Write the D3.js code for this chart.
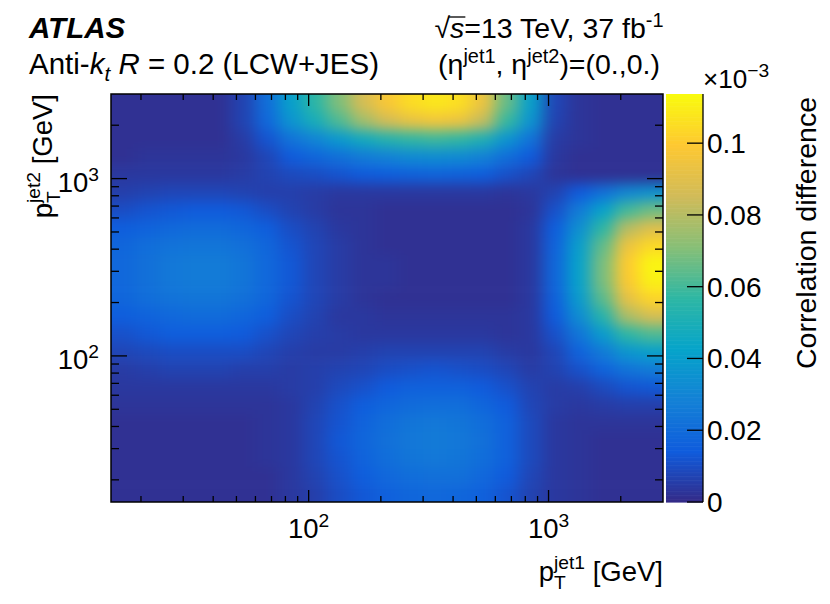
<!DOCTYPE html>
<html><head><meta charset="utf-8">
<script src="https://cdn.jsdelivr.net/npm/d3@7"></script>
<style>
body{margin:0;background:#fff}
text{font-family:"Liberation Sans",Arial,Helvetica,sans-serif;fill:#000;white-space:pre}
</style>
</head><body>
<svg id="c" width="830" height="604"></svg>
<script>
// ---------------- data ----------------
// bin edges of p_T^jet1 (x) and p_T^jet2 (y), GeV
const xEdges = [15, 18.9, 23.8, 29.9, 37.7, 47.4, 59.7, 75.2, 94.6, 119, 150, 189, 238, 299, 377, 474, 597, 752, 946, 1191, 1500, 1888, 2377, 3000];
const yEdges = [15, 18.9, 23.8, 29.9, 37.7, 47.4, 59.7, 75.2, 94.6, 119, 150, 189, 238, 299, 377, 474, 597, 752, 946, 1191, 1500, 1888, 2377, 3000];
// correlation difference (x10^-3); rows = y bins from lowest p_T^jet2 upward, columns = x bins
const corrDiff = [
 [0.002,0.002,0.002,0.002,0.002,0.002,0.002,0.004,0.006,0.010,0.013,0.016,0.018,0.019,0.018,0.016,0.012,0.007,0.004,0.003,0.002,0.002,0.002],
 [0.002,0.002,0.002,0.002,0.002,0.002,0.002,0.004,0.007,0.011,0.015,0.019,0.021,0.022,0.022,0.019,0.014,0.008,0.004,0.003,0.002,0.002,0.002],
 [0.002,0.002,0.002,0.002,0.002,0.002,0.003,0.004,0.008,0.012,0.017,0.021,0.024,0.025,0.024,0.021,0.016,0.009,0.004,0.003,0.002,0.002,0.002],
 [0.002,0.002,0.002,0.002,0.002,0.002,0.003,0.004,0.008,0.013,0.018,0.022,0.025,0.026,0.025,0.022,0.016,0.009,0.004,0.003,0.002,0.002,0.002],
 [0.002,0.002,0.002,0.002,0.002,0.002,0.003,0.004,0.008,0.012,0.017,0.021,0.024,0.025,0.024,0.021,0.016,0.009,0.004,0.003,0.003,0.003,0.003],
 [0.003,0.003,0.003,0.003,0.003,0.003,0.003,0.004,0.007,0.011,0.015,0.018,0.020,0.021,0.021,0.018,0.014,0.008,0.005,0.004,0.005,0.006,0.006],
 [0.004,0.004,0.004,0.004,0.004,0.004,0.004,0.005,0.006,0.009,0.011,0.014,0.016,0.016,0.016,0.014,0.011,0.007,0.005,0.006,0.009,0.012,0.013],
 [0.005,0.006,0.007,0.007,0.007,0.006,0.006,0.005,0.006,0.007,0.008,0.010,0.011,0.012,0.011,0.010,0.008,0.005,0.007,0.011,0.017,0.023,0.026],
 [0.008,0.009,0.010,0.010,0.010,0.010,0.008,0.006,0.005,0.005,0.006,0.007,0.007,0.007,0.007,0.007,0.005,0.004,0.008,0.017,0.026,0.037,0.041],
 [0.011,0.013,0.015,0.015,0.015,0.014,0.011,0.008,0.006,0.005,0.004,0.004,0.004,0.004,0.004,0.004,0.003,0.004,0.011,0.024,0.039,0.056,0.062],
 [0.015,0.017,0.019,0.020,0.020,0.018,0.015,0.010,0.007,0.004,0.004,0.003,0.003,0.003,0.003,0.003,0.003,0.004,0.014,0.033,0.054,0.078,0.087],
 [0.018,0.021,0.023,0.024,0.024,0.022,0.018,0.012,0.008,0.005,0.003,0.002,0.002,0.002,0.002,0.002,0.002,0.004,0.016,0.039,0.064,0.092,0.103],
 [0.019,0.022,0.025,0.026,0.026,0.024,0.019,0.013,0.008,0.005,0.003,0.003,0.002,0.002,0.002,0.002,0.002,0.004,0.018,0.042,0.069,0.099,0.111],
 [0.019,0.022,0.025,0.026,0.026,0.024,0.019,0.013,0.008,0.005,0.003,0.003,0.002,0.002,0.002,0.002,0.002,0.004,0.018,0.042,0.069,0.100,0.112],
 [0.018,0.021,0.023,0.024,0.024,0.022,0.018,0.012,0.008,0.005,0.003,0.002,0.002,0.002,0.002,0.002,0.002,0.004,0.017,0.040,0.065,0.094,0.104],
 [0.015,0.017,0.019,0.020,0.020,0.018,0.015,0.010,0.007,0.004,0.003,0.002,0.002,0.002,0.002,0.002,0.002,0.004,0.015,0.034,0.056,0.080,0.089],
 [0.010,0.012,0.013,0.014,0.014,0.013,0.010,0.007,0.005,0.003,0.003,0.002,0.002,0.002,0.002,0.002,0.002,0.003,0.011,0.026,0.042,0.060,0.067],
 [0.006,0.007,0.008,0.008,0.008,0.007,0.006,0.006,0.005,0.004,0.004,0.004,0.004,0.004,0.004,0.004,0.003,0.004,0.007,0.014,0.022,0.031,0.035],
 [0.004,0.004,0.004,0.004,0.004,0.005,0.007,0.009,0.010,0.012,0.014,0.015,0.016,0.017,0.016,0.015,0.011,0.008,0.003,0.002,0.002,0.002,0.002],
 [0.002,0.003,0.003,0.003,0.003,0.004,0.008,0.014,0.018,0.022,0.026,0.029,0.032,0.033,0.032,0.029,0.021,0.014,0.004,0.002,0.002,0.002,0.002],
 [0.002,0.002,0.002,0.002,0.002,0.005,0.012,0.023,0.030,0.038,0.047,0.053,0.057,0.059,0.057,0.051,0.036,0.023,0.005,0.003,0.002,0.002,0.002],
 [0.002,0.002,0.002,0.002,0.002,0.007,0.019,0.036,0.049,0.062,0.076,0.086,0.093,0.096,0.094,0.083,0.058,0.036,0.007,0.003,0.002,0.002,0.002],
 [0.002,0.002,0.002,0.002,0.002,0.007,0.021,0.041,0.056,0.070,0.087,0.098,0.105,0.108,0.106,0.094,0.066,0.041,0.008,0.003,0.002,0.002,0.002]
];
const zRange = [0, 0.1137];
const majorTicks = [100, 1000];
const majorTickExp = ["2", "3"];
const minorTicks = [20,30,40,50,60,70,80,90,200,300,400,500,600,700,800,900,2000];
const zTicks = [0, 0.02, 0.04, 0.06, 0.08, 0.1];
const zTickLabels = ["0", "0.02", "0.04", "0.06", "0.08", "0.1"];

// ---------------- style ----------------
const birdStops = [0, 0.125, 0.25, 0.375, 0.5, 0.625, 0.75, 0.875, 1];
const birdColors = ["rgb(53,42,135)","rgb(15,92,221)","rgb(20,129,214)","rgb(6,164,202)","rgb(46,183,164)","rgb(135,191,119)","rgb(209,187,89)","rgb(254,200,50)","rgb(249,251,14)"];
const FS = 29.5, FSA = 27.5;
const P = {l:111, r:663, t:94, b:502};
const CB = {l:666, r:703};

const svg = d3.select("#c");
const x = d3.scaleLog().domain([xEdges[0], xEdges[xEdges.length-1]]).range([P.l, P.r]);
const y = d3.scaleLog().domain([yEdges[0], yEdges[yEdges.length-1]]).range([P.b, P.t]);
const color = d3.scaleLinear().domain(birdStops.map(s => zRange[0] + s*(zRange[1]-zRange[0]))).range(birdColors).clamp(true);
const z = d3.scaleLinear().domain(zRange).range([P.b, P.t]);

const defs = svg.append("defs");
defs.append("clipPath").attr("id","plotclip").append("rect")
  .attr("x",P.l).attr("y",P.t).attr("width",P.r-P.l).attr("height",P.b-P.t);
const flt = defs.append("filter").attr("id","smooth")
  .attr("x","-5%").attr("y","-5%").attr("width","110%").attr("height","110%")
  .attr("color-interpolation-filters","sRGB");
flt.append("feGaussianBlur").attr("stdDeviation","8 6.5");

// heat map cells
const nx = xEdges.length-1, ny = yEdges.length-1, pad = 30;
const cells = [];
corrDiff.forEach((row,j) => row.forEach((v,i) => cells.push({i,j,v})));
const heat = svg.append("g").attr("clip-path","url(#plotclip)").append("g").attr("filter","url(#smooth)");
heat.selectAll("rect").data(cells).join("rect")
  .attr("x", d => x(xEdges[d.i]) - (d.i===0?pad:0))
  .attr("width", d => x(xEdges[d.i+1]) - x(xEdges[d.i]) + (d.i===0?pad:0) + (d.i===nx-1?pad:0) + 0.6)
  .attr("y", d => y(yEdges[d.j+1]) - (d.j===ny-1?pad:0))
  .attr("height", d => y(yEdges[d.j]) - y(yEdges[d.j+1]) + (d.j===ny-1?pad:0) + (d.j===0?pad:0) + 0.6)
  .attr("fill", d => color(d.v));

// frame
svg.append("rect").attr("x",P.l).attr("y",P.t).attr("width",P.r-P.l).attr("height",P.b-P.t)
  .attr("fill","none").attr("stroke","#000").attr("stroke-width",1.5);

const tk = svg.append("g").attr("stroke","#000").attr("stroke-width",1.3);
majorTicks.forEach(t => {
  tk.append("line").attr("x1",x(t)).attr("x2",x(t)).attr("y1",P.b).attr("y2",P.b-12);
  tk.append("line").attr("x1",x(t)).attr("x2",x(t)).attr("y1",P.t).attr("y2",P.t+12);
  tk.append("line").attr("y1",y(t)).attr("y2",y(t)).attr("x1",P.l).attr("x2",P.l+16);
  tk.append("line").attr("y1",y(t)).attr("y2",y(t)).attr("x1",P.r).attr("x2",P.r-16);
});
minorTicks.forEach(t => {
  tk.append("line").attr("x1",x(t)).attr("x2",x(t)).attr("y1",P.b).attr("y2",P.b-6);
  tk.append("line").attr("x1",x(t)).attr("x2",x(t)).attr("y1",P.t).attr("y2",P.t+6);
  tk.append("line").attr("y1",y(t)).attr("y2",y(t)).attr("x1",P.l).attr("x2",P.l+8);
  tk.append("line").attr("y1",y(t)).attr("y2",y(t)).attr("x1",P.r).attr("x2",P.r-8);
});

// tick labels
majorTicks.forEach((t,k) => {
  const tx = svg.append("text").attr("x",x(t)).attr("y",P.b+36).attr("text-anchor","middle").attr("font-size",FSA);
  tx.append("tspan").text("10");
  tx.append("tspan").attr("font-size",FSA*0.7).attr("dy",-11).text(majorTickExp[k]);
  const ty = svg.append("text").attr("x",99).attr("y",y(t)+13).attr("text-anchor","end").attr("font-size",FSA);
  ty.append("tspan").text("10");
  ty.append("tspan").attr("font-size",FSA*0.7).attr("dy",-11).text(majorTickExp[k]);
});

// axis titles
function ptTitle(sel, sup){
  sel.append("tspan").text("p");
  sel.append("tspan").attr("font-size",FSA*0.7).attr("dy",8).text("T");
  sel.append("tspan").attr("font-size",FSA*0.7).attr("dx",-FSA*0.7*0.611).attr("dy",-20).text(sup);
  sel.append("tspan").attr("dy",12).text(" [GeV]");
}
ptTitle(svg.append("text").attr("x",P.r).attr("y",581).attr("text-anchor","end").attr("font-size",FSA), "jet1");
ptTitle(svg.append("text").attr("transform","translate(52,"+P.t+") rotate(-90)").attr("text-anchor","end").attr("font-size",FSA), "jet2");

// colour bar
const steps = d3.range(0, 300);
const dz = (zRange[1]-zRange[0])/300;
svg.append("g").selectAll("rect").data(steps).join("rect")
  .attr("x",CB.l).attr("width",CB.r-CB.l)
  .attr("y", k => z(zRange[0]+(k+1)*dz))
  .attr("height", k => z(zRange[0]+k*dz) - z(zRange[0]+(k+1)*dz) + 0.6)
  .attr("fill", k => color(zRange[0]+(k+0.5)*dz));
svg.append("line").attr("x1",CB.r).attr("x2",CB.r).attr("y1",P.t).attr("y2",P.b).attr("stroke","#000").attr("stroke-width",1.3);
zTicks.forEach((t,k) => {
  svg.append("line").attr("x1",CB.r-16).attr("x2",CB.r).attr("y1",z(t)).attr("y2",z(t)).attr("stroke","#000").attr("stroke-width",1.3);
  svg.append("text").attr("x",CB.r+4).attr("y",z(t)+10).attr("font-size",28).text(zTickLabels[k]);
});
const mult = svg.append("text").attr("x",CB.r).attr("y",88).attr("font-size",FSA*0.95);
mult.append("tspan").text("×10");
mult.append("tspan").attr("font-size",FSA*0.7).attr("dy",-11).text("−3");
svg.append("text").attr("transform","translate(816,"+(P.t+3)+") rotate(-90)").attr("text-anchor","end")
  .attr("font-size",28.5).text("Correlation difference");

// labels
svg.append("text").attr("x",29).attr("y",38).attr("font-size",FS).attr("font-weight","bold").attr("font-style","italic").text("ATLAS");
const l2 = svg.append("text").attr("x",29).attr("y",74).attr("font-size",FS);
l2.append("tspan").text("Anti-");
l2.append("tspan").attr("font-style","italic").text("k");
l2.append("tspan").attr("font-style","italic").attr("font-size",FS*0.7).attr("dy",7).text("t");
l2.append("tspan").attr("dy",-7).text(" ");
l2.append("tspan").attr("font-style","italic").text("R");
l2.append("tspan").text(" = 0.2 (LCW+JES)");

const r1 = svg.append("text").attr("x",549).attr("y",38).attr("text-anchor","middle").attr("font-size",28.5);
r1.append("tspan").text("√");
r1.append("tspan").attr("font-style","italic").text("s");
r1.append("tspan").text("=13 TeV, 37 fb");
r1.append("tspan").attr("font-size",28.5*0.7).attr("dy",-11).text("-1");
try {
  const ext = r1.node().getExtentOfChar(1);
  const ext0 = r1.node().getExtentOfChar(0);
  svg.append("line").attr("x1",ext0.x+ext0.width-1).attr("x2",ext.x+ext.width+1)
    .attr("y1",38-21).attr("y2",38-21).attr("stroke","#000").attr("stroke-width",1.3);
} catch(e) {}

const r2 = svg.append("text").attr("x",549).attr("y",74).attr("text-anchor","middle").attr("font-size",28.5);
r2.append("tspan").text("(η");
r2.append("tspan").attr("font-size",28.5*0.7).attr("dy",-11).text("jet1");
r2.append("tspan").attr("dy",11).text(", η");
r2.append("tspan").attr("font-size",28.5*0.7).attr("dy",-11).text("jet2");
r2.append("tspan").attr("dy",11).text(")=(0.,0.)");
</script>
</body></html>
